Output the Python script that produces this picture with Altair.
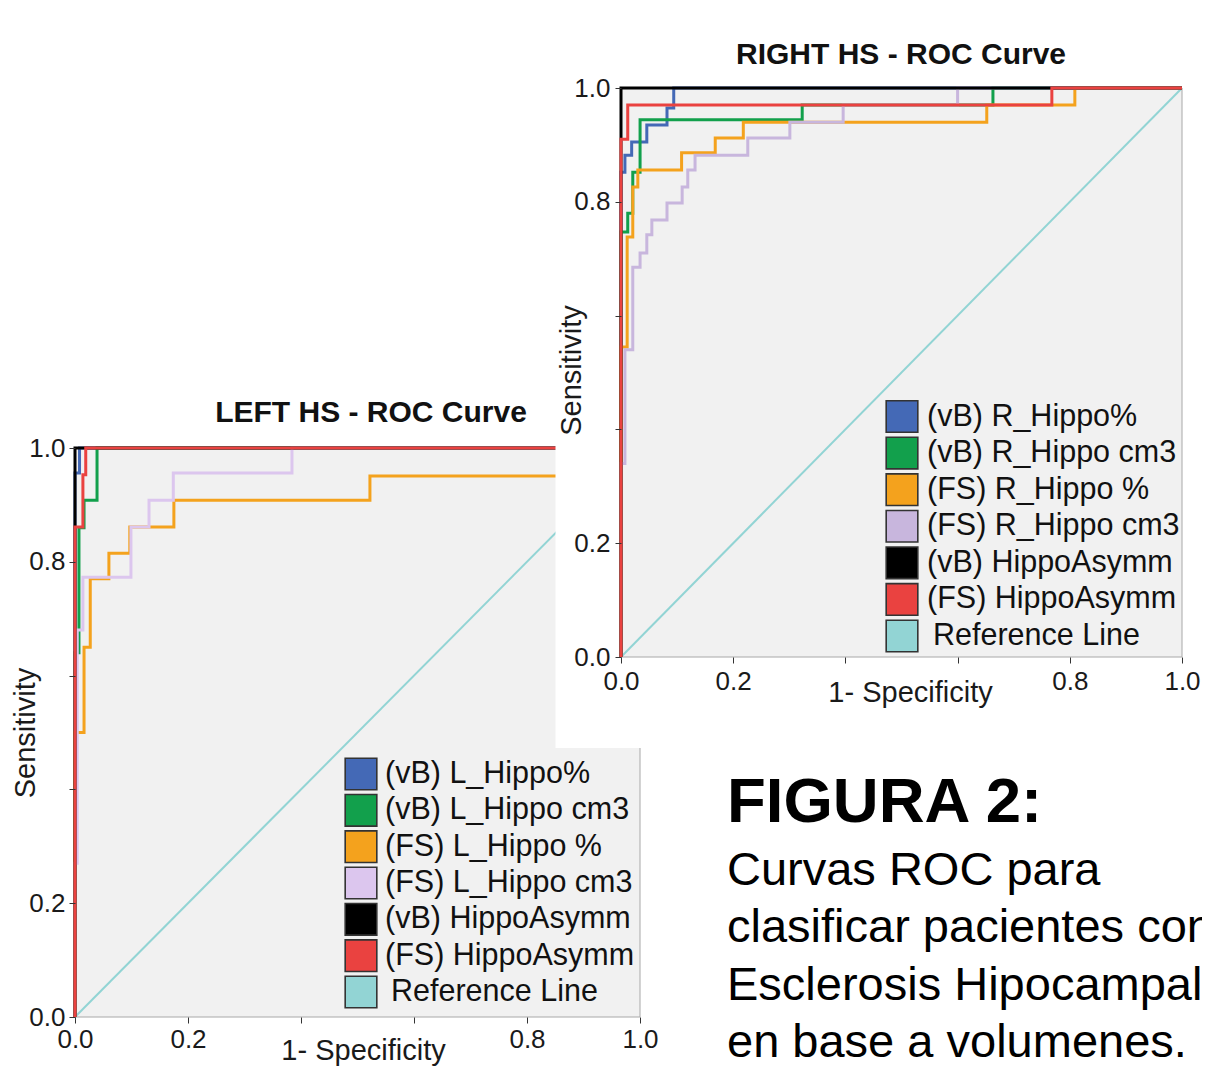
import altair as alt
import pandas as pd

W, H = 1194, 1059
FONT = "Liberation Sans"
TICKS = [0.0, 0.2, 0.4, 0.6, 0.8, 1.0]

# ---------------- labels / colours ----------------
LEFT_LABELS = ["(vB) L_Hippo%", "(vB) L_Hippo cm3", "(FS) L_Hippo %", "(FS) L_Hippo cm3",
               "(vB) HippoAsymm", "(FS) HippoAsymm", "Reference Line"]
RIGHT_LABELS = ["(vB) R_Hippo%", "(vB) R_Hippo cm3", "(FS) R_Hippo %", "(FS) R_Hippo cm3",
                "(vB) HippoAsymm", "(FS) HippoAsymm", "Reference Line"]
LEFT_COLORS = ["#4469b6", "#12a04c", "#f4a21d", "#dcc6ee", "#000000", "#ea4240", "#92d4d4"]
RIGHT_COLORS = ["#4469b6", "#12a04c", "#f4a21d", "#c8b6dd", "#000000", "#ea4240", "#92d4d4"]

LEFT_TITLE = "LEFT HS - ROC Curve"
RIGHT_TITLE = "RIGHT HS - ROC Curve"
X_TITLE = "1- Specificity"
Y_TITLE = "Sensitivity"
FIG_TITLE = "FIGURA 2:"
CAPTION_LINES = ["Curvas ROC para", "clasificar pacientes con",
                 "Esclerosis Hipocampal", "en base a volumenes."]

# ---------------- LEFT HS curves (1-specificity, sensitivity) ----------------
L_VB_PCT_FPR = [0, 0, 0.008, 0.008, 1]
L_VB_PCT_TPR = [0, 0.956, 0.956, 1, 1]
L_VB_CM3_FPR = [0, 0, 0.007, 0.007, 0.016, 0.016, 0.039, 0.039, 1]
L_VB_CM3_TPR = [0, 0.64, 0.64, 0.86, 0.86, 0.908, 0.908, 1, 1]
L_FS_PCT_FPR = [0, 0, 0.016, 0.016, 0.027, 0.027, 0.06, 0.06, 0.097, 0.097, 0.175, 0.175,
                0.522, 0.522, 0.9, 0.9, 1]
L_FS_PCT_TPR = [0, 0.5, 0.5, 0.65, 0.65, 0.77, 0.77, 0.815, 0.815, 0.861, 0.861, 0.908,
                0.908, 0.951, 0.951, 1, 1]
L_FS_CM3_FPR = [0, 0, 0.004, 0.004, 0.014, 0.014, 0.099, 0.099, 0.131, 0.131, 0.174, 0.174,
                0.384, 0.384, 1]
L_FS_CM3_TPR = [0, 0.27, 0.27, 0.68, 0.68, 0.773, 0.773, 0.861, 0.861, 0.908, 0.908, 0.956,
                0.956, 1, 1]
L_VB_ASYM_FPR = [0, 0, 1]
L_VB_ASYM_TPR = [0, 1, 1]
L_FS_ASYM_FPR = [0, 0, 0.014, 0.014, 0.019, 0.019, 1]
L_FS_ASYM_TPR = [0, 0.861, 0.861, 0.953, 0.953, 1, 1]

# ---------------- RIGHT HS curves ----------------
R_VB_PCT_FPR = [0, 0, 0.007, 0.007, 0.019, 0.019, 0.046, 0.046, 0.082, 0.082, 0.094, 0.094, 1]
R_VB_PCT_TPR = [0, 0.852, 0.852, 0.882, 0.882, 0.905, 0.905, 0.935, 0.935, 0.965, 0.965, 1, 1]
R_VB_CM3_FPR = [0, 0, 0.012, 0.012, 0.021, 0.021, 0.034, 0.034, 0.323, 0.323, 0.663, 0.663, 1]
R_VB_CM3_TPR = [0, 0.747, 0.747, 0.78, 0.78, 0.852, 0.852, 0.944, 0.944, 0.97, 0.97, 1, 1]
R_FS_PCT_FPR = [0, 0, 0.011, 0.011, 0.021, 0.021, 0.03, 0.03, 0.108, 0.108, 0.168, 0.168,
                0.218, 0.218, 0.652, 0.652, 0.809, 0.809, 1]
R_FS_PCT_TPR = [0, 0.545, 0.545, 0.738, 0.738, 0.826, 0.826, 0.856, 0.856, 0.886, 0.886,
                0.912, 0.912, 0.94, 0.94, 0.97, 0.97, 1, 1]
R_FS_CM3_FPR = [0, 0, 0.007, 0.007, 0.021, 0.021, 0.034, 0.034, 0.046, 0.046, 0.055, 0.055,
                0.082, 0.082, 0.109, 0.109, 0.119, 0.119, 0.132, 0.132, 0.226, 0.226,
                0.301, 0.301, 0.396, 0.396, 0.6, 0.6, 1]
R_FS_CM3_TPR = [0, 0.34, 0.34, 0.54, 0.54, 0.685, 0.685, 0.71, 0.71, 0.742, 0.742, 0.768,
                0.768, 0.798, 0.798, 0.826, 0.826, 0.856, 0.856, 0.882, 0.882, 0.912,
                0.912, 0.94, 0.94, 0.97, 0.97, 1, 1]
R_VB_ASYM_FPR = [0, 0, 1]
R_VB_ASYM_TPR = [0, 1, 1]
R_FS_ASYM_FPR = [0, 0, 0.012, 0.012, 0.768, 0.768, 1]
R_FS_ASYM_TPR = [0, 0.91, 0.91, 0.97, 0.97, 1, 1]

LEFT_SERIES = [(L_VB_PCT_FPR, L_VB_PCT_TPR), (L_VB_CM3_FPR, L_VB_CM3_TPR),
               (L_FS_PCT_FPR, L_FS_PCT_TPR), (L_FS_CM3_FPR, L_FS_CM3_TPR),
               (L_VB_ASYM_FPR, L_VB_ASYM_TPR), (L_FS_ASYM_FPR, L_FS_ASYM_TPR)]
RIGHT_SERIES = [(R_VB_PCT_FPR, R_VB_PCT_TPR), (R_VB_CM3_FPR, R_VB_CM3_TPR),
                (R_FS_PCT_FPR, R_FS_PCT_TPR), (R_FS_CM3_FPR, R_FS_CM3_TPR),
                (R_VB_ASYM_FPR, R_VB_ASYM_TPR), (R_FS_ASYM_FPR, R_FS_ASYM_TPR)]


def build_df(labels, series):
    rows = []
    for lab, (xs, ys) in zip(labels, series):
        for i, (a, b) in enumerate(zip(xs, ys)):
            rows.append({"series": lab, "i": i, "fpr": a, "tpr": b})
    return pd.DataFrame(rows)


LABEL_EXPR = "(datum.value > 0.3 && datum.value < 0.7) ? '' : format(datum.value, '.1f')"


def make_panel(labels, colors, series, xrange, yrange, x_title_xy, y_title_xy,
               xlab_pad, ylab_pad, legend_range, sq_x, txt_x):
    df = build_df(labels, series)
    xs = alt.Scale(domain=[0, 1], range=xrange, nice=False, zero=False)
    ys = alt.Scale(domain=[0, 1], range=yrange, nice=False, zero=False)
    cs = alt.Scale(domain=labels, range=colors)
    common = dict(values=TICKS, labelExpr=LABEL_EXPR, labelFont=FONT, labelFontSize=26,
                  labelColor="#1a1a1a", tickSize=6, tickColor="#333333", tickWidth=1,
                  domain=False, grid=False, zindex=1, labelFlush=False,
                  labelOverlap=False, titleFont=FONT, titleFontSize=29,
                  titleFontWeight="normal", titleColor="#1a1a1a",
                  titleBaseline="middle", titleAlign="center")
    xaxis = alt.Axis(orient="bottom", offset=yrange[0] - H, title=X_TITLE,
                     titleX=x_title_xy[0], titleY=x_title_xy[1], labelPadding=xlab_pad,
                     **common)
    yaxis = alt.Axis(orient="left", offset=-xrange[0], title=Y_TITLE,
                     titleX=y_title_xy[0], titleY=y_title_xy[1], titleAngle=270,
                     labelPadding=ylab_pad, **common)

    bg = alt.Chart(alt.Data(values=[{}])).mark_rect(
        fill="#f1f1f1", stroke="#a8a8a8", strokeWidth=1
    ).encode(
        x=alt.XDatum(0, type="quantitative", scale=xs, axis=xaxis),
        x2=alt.X2Datum(1),
        y=alt.YDatum(0, type="quantitative", scale=ys, axis=yaxis),
        y2=alt.Y2Datum(1),
    )
    ref = alt.Chart(alt.Data(values=[{}])).mark_rule(
        color=colors[-1], strokeWidth=2
    ).encode(
        x=alt.XDatum(0, type="quantitative", scale=xs, axis=xaxis),
        x2=alt.X2Datum(1),
        y=alt.YDatum(0, type="quantitative", scale=ys, axis=yaxis),
        y2=alt.Y2Datum(1),
    )
    layers = [bg, ref]
    for lab in labels[:-1]:
        layers.append(
            alt.Chart(df).transform_filter(alt.datum.series == lab).mark_line(
                strokeWidth=3, strokeCap="butt", strokeJoin="miter"
            ).encode(
                x=alt.X("fpr:Q", scale=xs, axis=xaxis),
                y=alt.Y("tpr:Q", scale=ys, axis=yaxis),
                color=alt.Color("series:N", scale=cs, legend=None),
                order=alt.Order("i:Q"),
            )
        )
    plot = alt.layer(*layers)

    leg_df = pd.DataFrame({"label": labels})
    ly = alt.Scale(type="point", domain=labels, range=legend_range, padding=0)
    squares = alt.Chart(leg_df).mark_point(
        shape="square", filled=True, size=1000, stroke="#333333", strokeWidth=1.6, opacity=1
    ).encode(
        x=alt.value(sq_x),
        y=alt.Y("label:N", scale=ly, axis=None),
        color=alt.Color("label:N", scale=cs, legend=None),
    )
    text_style = dict(align="left", baseline="middle", font=FONT, fontSize=30.5,
                      color="#111111")
    texts_main = alt.Chart(leg_df).transform_filter(
        alt.datum.label != labels[-1]
    ).mark_text(**text_style).encode(
        x=alt.value(txt_x),
        y=alt.Y("label:N", scale=ly, axis=None),
        text="label:N",
    )
    texts_ref = alt.Chart(leg_df).transform_filter(
        alt.datum.label == labels[-1]
    ).mark_text(**text_style).encode(
        x=alt.value(txt_x + 6),
        y=alt.Y("label:N", scale=ly, axis=None),
        text="label:N",
    )
    legend = alt.layer(squares, texts_main, texts_ref)
    return alt.layer(plot, legend).resolve_scale(y="independent")


left = make_panel(LEFT_LABELS, LEFT_COLORS, LEFT_SERIES,
                  xrange=[67, 632], yrange=[1009, 440],
                  x_title_xy=[355, 33], y_title_xy=[-50, 724.5],
                  xlab_pad=3, ylab_pad=4,
                  legend_range=[766, 984], sq_x=353, txt_x=377)
right = make_panel(RIGHT_LABELS, RIGHT_COLORS, RIGHT_SERIES,
                   xrange=[613, 1174], yrange=[649, 80],
                   x_title_xy=[902, 35], y_title_xy=[-49.5, 362],
                   xlab_pad=5, ylab_pad=5,
                   legend_range=[408.5, 628], sq_x=894, txt_x=919)

one = alt.Data(values=[{}])
white = alt.Chart(one).mark_rect(fill="white").encode(
    x=alt.value(547.5), x2=alt.value(W), y=alt.value(0), y2=alt.value(740)
)
left_title = alt.Chart(one).mark_text(
    font=FONT, fontSize=30, fontWeight="bold", align="center", baseline="middle", color="#111111"
).encode(x=alt.value(363), y=alt.value(405), text=alt.value(LEFT_TITLE))
right_title = alt.Chart(one).mark_text(
    font=FONT, fontSize=30, fontWeight="bold", align="center", baseline="middle", color="#111111"
).encode(x=alt.value(893), y=alt.value(47), text=alt.value(RIGHT_TITLE))
fig_title = alt.Chart(one).mark_text(
    font=FONT, fontSize=63.5, fontWeight="bold", align="left", baseline="alphabetic", color="#000000"
).encode(x=alt.value(719), y=alt.value(814), text=alt.value(FIG_TITLE))
caption = alt.Chart(one).mark_text(
    font=FONT, fontSize=47, align="left", baseline="alphabetic", lineHeight=57.3, color="#000000"
).encode(x=alt.value(719), y=alt.value(877), text=alt.value(CAPTION_LINES))

chart = alt.layer(
    left, white, right, left_title, right_title, fig_title, caption
).resolve_scale(
    x="independent", y="independent", color="independent"
).properties(
    width=W, height=H, autosize=alt.AutoSizeParams(type="none"), padding=0
).configure_view(stroke=None)

chart.save("out.html", embed_options={"renderer": "svg", "actions": False})
